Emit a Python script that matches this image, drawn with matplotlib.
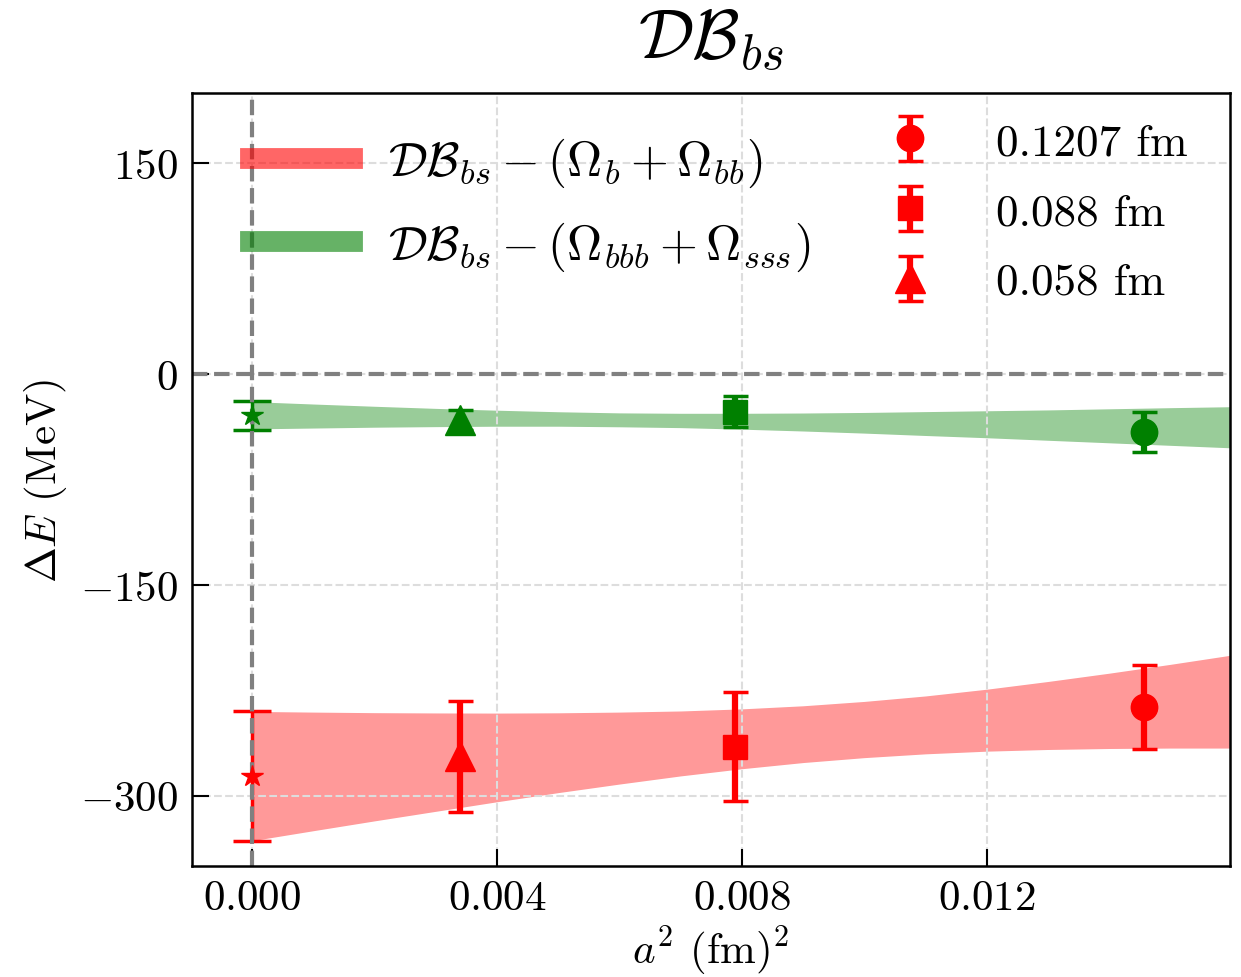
import numpy as np
import matplotlib
matplotlib.use("Agg")
import matplotlib.pyplot as plt
from matplotlib.lines import Line2D
from matplotlib.ticker import MultipleLocator

plt.rcParams['font.family'] = 'serif'
plt.rcParams['font.serif'] = ['cmr10']
plt.rcParams['mathtext.fontset'] = 'cm'
plt.rcParams['axes.formatter.use_mathtext'] = True

# lattice points: a^2 (fm^2) for 0.1207, 0.088, 0.058 fm
a2 = [0.01456, 0.00789, 0.0034]
labels = ['0.1207 fm', '0.088 fm', '0.058 fm']
markers = ['o', 's', '^']
msizes = [19, 17, 22]

# DB_bs - (Omega_b + Omega_bb)
red_y = [-237, -265, -272]
red_err = [30, 38.5, 39.5]
red_cont = -286
red_cont_err = 46.5

# DB_bs - (Omega_bbb + Omega_sss)
green_y = [-41.4, -26.7, -32.5]
green_err = [14.2, 11.2, 7.2]
green_cont = -29.2
green_cont_err = 10.3

# fit bands
band_x = [0.0, 0.001, 0.002, 0.003, 0.004, 0.005, 0.006, 0.007, 0.008,
          0.009, 0.010, 0.011, 0.012, 0.013, 0.014, 0.015, 0.016]
red_hi = [-240, -240.5, -240.9, -241.1, -241.2, -241.0, -240.5, -239.7, -238.2,
          -236.0, -232.9, -229.0, -224.2, -218.7, -212.8, -206.5, -199.9]
red_lo = [-332, -324.9, -317.9, -311.1, -304.3, -297.8, -291.7, -285.9, -280.8,
          -276.4, -272.9, -270.2, -268.3, -267.1, -266.4, -266.1, -266.1]
green_hi = [-19.6, -21.3, -22.9, -24.4, -25.7, -26.8, -27.6, -27.9, -27.9,
            -27.7, -27.3, -26.7, -26.1, -25.5, -24.7, -23.9, -23.2]
green_lo = [-39.0, -38.4, -37.8, -37.4, -37.1, -37.1, -37.5, -38.1, -39.2,
            -40.5, -42.0, -43.7, -45.3, -47.1, -48.9, -50.7, -52.5]

fig = plt.figure(figsize=(12.41, 9.78), dpi=100)
ax = fig.add_axes([0.1547, 0.1135, 0.9911 - 0.1547, 0.9039 - 0.1135])

ax.fill_between(band_x, red_lo, red_hi, color='red', alpha=0.4, lw=0)
ax.fill_between(band_x, green_lo, green_hi, color='green', alpha=0.4, lw=0)

handles = []
for i in range(3):
    h = ax.errorbar(a2[i], red_y[i], yerr=red_err[i], fmt=markers[i], color='red',
                    ms=msizes[i], elinewidth=4.5, capsize=9, capthick=2.5, label=labels[i])
    handles.append(h)
    ax.errorbar(a2[i], green_y[i], yerr=green_err[i], fmt=markers[i], color='green',
                ms=msizes[i], elinewidth=4.5, capsize=9, capthick=2.5)

ax.errorbar(0, red_cont, yerr=red_cont_err, fmt='*', color='red', ms=16,
            elinewidth=2.5, capsize=14, capthick=2.5)
ax.errorbar(0, green_cont, yerr=green_cont_err, fmt='*', color='green', ms=16,
            elinewidth=2.5, capsize=14, capthick=2.5)

ax.axhline(0, color='grey', ls='--', lw=3, zorder=2.05)
ax.axvline(0, color='grey', ls='--', lw=3, zorder=2.05)

ax.set_xlim(-0.00098, 0.01597)
ax.set_ylim(-350, 200)
ax.set_xticks([0.0, 0.004, 0.008, 0.012])
ax.yaxis.set_major_locator(MultipleLocator(150))
ax.grid(True, ls='--', color='#dddddd', lw=1.5)
ax.tick_params(direction='in', length=12, width=1.5, labelsize=31, pad=10)
for s in ax.spines.values():
    s.set_linewidth(1.8)

ax.set_xlabel(r'$a^2$ (fm)$^2$', fontsize=31, labelpad=4)
ax.set_ylabel(r'$\Delta E$ (MeV)', fontsize=31, labelpad=8)
ax.set_title(r'$\mathcal{DB}_{bs}$', fontsize=50, pad=25)

band_handles = [Line2D([], [], color='red', alpha=0.6, lw=15),
                Line2D([], [], color='green', alpha=0.6, lw=15)]
leg1 = ax.legend(band_handles,
                 [r'$\mathcal{DB}_{bs} - (\Omega_b + \Omega_{bb})$',
                  r'$\mathcal{DB}_{bs} - (\Omega_{bbb} + \Omega_{sss})$'],
                 loc='upper left', bbox_to_anchor=(0.0173, 0.996),
                 frameon=False, fontsize=35, handlelength=2.1,
                 handletextpad=0.74, borderaxespad=0.42, borderpad=0.4,
                 labelspacing=0.62)
ax.add_artist(leg1)
ax.legend(handles=handles, loc='upper right', bbox_to_anchor=(0.9807, 0.991),
          frameon=False, fontsize=32.5, borderaxespad=0.2, borderpad=0.3,
          labelspacing=0.65, handletextpad=0.9)

fig.savefig('out.png', dpi=100)
